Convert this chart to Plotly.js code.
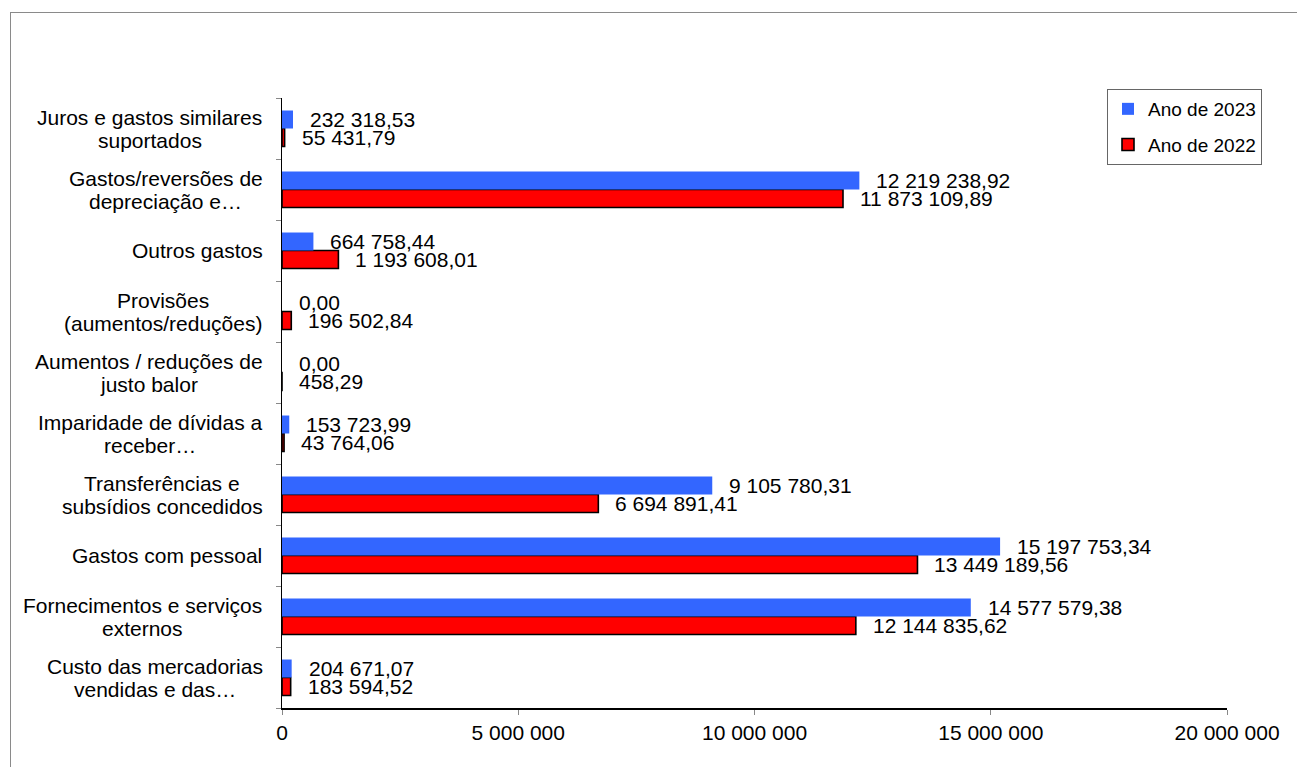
<!DOCTYPE html>
<html>
<head>
<meta charset="utf-8">
<script src="https://cdn.plot.ly/plotly-3.0.1.min.js"></script>
<style>
  html, body { margin: 0; padding: 0; background: #fff; overflow: hidden; }
  #chart { width: 1297px; height: 767px; }
  #frame { position: absolute; left: 10px; top: 12px; width: 1400px; height: 900px;
           border: 1.5px solid #8a8a8a; pointer-events: none; z-index: 10; }
</style>
</head>
<body>
<div id="chart"></div>
<div id="frame"></div>
<script>
// ---- data (bottom to top) ----
const categories = [
  "Custo das mercadorias<br>vendidas e das…",
  "Fornecimentos e serviços<br>externos",
  "Gastos com pessoal",
  "Transferências e<br>subsídios concedidos",
  "Imparidade de dívidas a<br>receber…",
  "Aumentos / reduções de<br>justo balor",
  "Provisões<br>(aumentos/reduções)",
  "Outros gastos",
  "Gastos/reversões de<br>depreciação e…",
  "Juros e gastos similares<br>suportados"
];
const values2023 = [204671.07, 14577579.38, 15197753.34, 9105780.31, 153723.99, 0.00, 0.00, 664758.44, 12219238.92, 232318.53];
const values2022 = [183594.52, 12144835.62, 13449189.56, 6694891.41, 43764.06, 458.29, 196502.84, 1193608.01, 11873109.89, 55431.79];
const seriesNames = ["Ano de 2023", "Ano de 2022"];
const xTickVals = [0, 5000000, 10000000, 15000000, 20000000];
const xTickText = ["0", "5 000 000", "10 000 000", "15 000 000", "20 000 000"];

// ---- layout constants ----
const W = 1297, H = 767;
const M = {l: 282, r: 70, t: 98, b: 59};
const plotW = W - M.l - M.r;
const FONT = "'Liberation Sans', Arial, Helvetica, sans-serif";
const FS = 21;

function fmt(v) {
  const s = v.toFixed(2);
  const [ip, dp] = s.split('.');
  const grouped = ip.replace(/\B(?=(\d{3})+(?!\d))/g, ' ');
  return grouped + ',' + dp;
}

const traces = [
  {
    type: 'bar', orientation: 'h', name: seriesNames[1],
    y: categories, x: values2022,
    marker: {color: '#ff0000', line: {color: '#000000', width: 1.6}},
    legendgroup: 'g2022', legendrank: 2, hoverinfo: 'x'
  },
  {
    type: 'bar', orientation: 'h', name: seriesNames[0],
    y: categories, x: values2023,
    marker: {color: '#3366ff', line: {width: 0}},
    legendgroup: 'g2023', legendrank: 1, hoverinfo: 'x'
  }
];

const annotations = [];
// data labels
categories.forEach((c, i) => {
  annotations.push({xref: 'x', yref: 'y', x: values2023[i], y: c, text: fmt(values2023[i]),
    showarrow: false, xanchor: 'left', yanchor: 'middle', xshift: 15, yshift: 9,
    font: {family: FONT, size: FS, color: '#000'}});
  annotations.push({xref: 'x', yref: 'y', x: values2022[i], y: c, text: fmt(values2022[i]),
    showarrow: false, xanchor: 'left', yanchor: 'middle', xshift: 15, yshift: -9,
    font: {family: FONT, size: FS, color: '#000'}});
});

// category labels: centered blocks right-aligned at the axis
const ctx = document.createElement('canvas').getContext('2d');
ctx.font = FS + "px 'Liberation Sans'";
const labelRight = 262.5;
const lineStep = 23;
categories.forEach((c) => {
  const lines = c.split('<br>');
  const maxW = Math.max(...lines.map(l => ctx.measureText(l).width));
  const centerPx = labelRight - maxW / 2;
  const xPaper = (centerPx - M.l) / plotW;
  const n = lines.length;
  lines.forEach((l, j) => {
    annotations.push({xref: 'paper', yref: 'y', x: xPaper, y: c, text: l,
      showarrow: false, xanchor: 'center', yanchor: 'middle',
      yshift: ((n - 1) / 2 - j) * lineStep,
      font: {family: FONT, size: FS, color: '#000'}});
  });
});

const layout = {
  width: W, height: H,
  margin: M,
  paper_bgcolor: '#ffffff', plot_bgcolor: '#ffffff',
  font: {family: FONT, size: FS, color: '#000'},
  barmode: 'group',
  bargap: 0.41,
  bargroupgap: 0,
  showlegend: true,
  legend: {
    x: (1262 - M.l) / plotW, xanchor: 'right',
    y: 1 + (98 - 89) / (H - M.t - M.b), yanchor: 'top',
    bordercolor: '#666', borderwidth: 1, bgcolor: '#fff',
    font: {family: FONT, size: 19, color: '#000'},
    traceorder: 'grouped', tracegroupgap: 8, itemwidth: 30
  },
  xaxis: {
    range: [0, 20000000], tickvals: xTickVals, ticktext: xTickText,
    showgrid: false, zeroline: false,
    showline: true, linecolor: '#000', linewidth: 1.5,
    ticks: 'outside', ticklen: 5, tickcolor: '#888', tickwidth: 1,
    tickfont: {family: FONT, size: FS, color: '#000'}
  },
  yaxis: {
    type: 'category', categoryorder: 'array', categoryarray: categories,
    showgrid: false, zeroline: false,
    showline: true, linecolor: '#000', linewidth: 1.5,
    ticks: 'outside', tickson: 'boundaries', ticklen: 5, tickcolor: '#888', tickwidth: 1,
    showticklabels: false
  },
  annotations: annotations
};

Plotly.newPlot('chart', traces, layout, {displayModeBar: false, staticPlot: true});
</script>
</body>
</html>
